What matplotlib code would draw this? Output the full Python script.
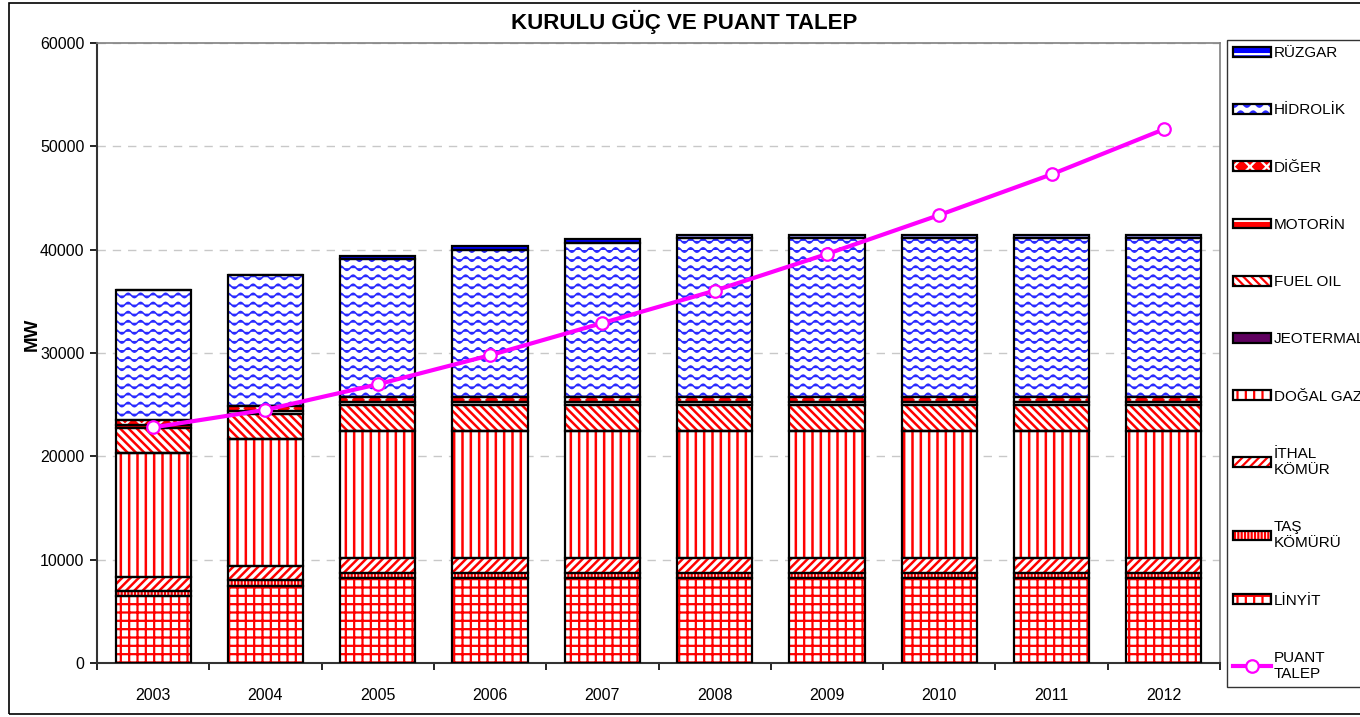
import warnings
import numpy as np
import matplotlib
matplotlib.use("Agg")
import matplotlib.pyplot as plt
import matplotlib.hatch as mhatch
from matplotlib.path import Path
from matplotlib.patches import Rectangle

warnings.filterwarnings("ignore")

# yıllar ve kaynak bazında kurulu güç (MW)
yillar = ['2003', '2004', '2005', '2006', '2007', '2008', '2009', '2010', '2011', '2012']
linyit = [6440, 7480, 8190, 8190, 8190, 8190, 8190, 8190, 8190, 8190]
tas_komuru = [540, 550, 550, 550, 550, 550, 550, 550, 550, 550]
ithal_komur = [1370, 1390, 1420, 1420, 1420, 1420, 1420, 1420, 1420, 1420]
dogal_gaz = [12000, 12260, 12320, 12320, 12320, 12320, 12320, 12320, 12320, 12320]
jeotermal = [15, 15, 15, 15, 15, 15, 15, 15, 15, 15]
fuel_oil = [2400, 2420, 2480, 2480, 2480, 2480, 2480, 2480, 2480, 2480]
motorin = [250, 250, 250, 250, 250, 250, 250, 250, 250, 250]
diger = [470, 520, 560, 560, 560, 560, 560, 560, 560, 560]
hidrolik = [12580, 12650, 13270, 14170, 14900, 15300, 15300, 15300, 15300, 15300]
ruzgar = [19, 19, 380, 420, 320, 320, 320, 320, 320, 320]
puant_talep = [22800, 24500, 26970, 29780, 32900, 36030, 39580, 43350, 47290, 51650]


# dalgali tarama (hidrolik icin)
class WaveHatch(mhatch.HatchPatternBase):
    def __init__(self, hatch, density):
        self.rows = 11 if 'w' in hatch else 0
        self.pts = 8 * 12 + 1
        self.num_vertices = self.rows * self.pts

    def set_vertices_and_codes(self, vertices, codes):
        xs = np.linspace(0, 1, self.pts)
        for r in range(self.rows):
            y0 = (r + 0.5) / self.rows
            sl = slice(r * self.pts, (r + 1) * self.pts)
            vertices[sl, 0] = xs
            vertices[sl, 1] = y0 + 0.022 * np.sin(2 * np.pi * 8 * xs)
            codes[sl] = Path.LINETO
            codes[r * self.pts] = Path.MOVETO


mhatch._hatch_types.append(WaveHatch)

plt.rcParams['font.family'] = ['Liberation Sans', 'DejaVu Sans']
plt.rcParams['hatch.linewidth'] = 1.6

# ad, degerler, zemin, tarama rengi, desen, tarama kalinligi
seriler = [
    ('LİNYİT', linyit, 'white', 'red', '++', 1.6),
    ('TAŞ\nKÖMÜRÜ', tas_komuru, 'white', 'red', '|||||', 1.6),
    ('İTHAL\nKÖMÜR', ithal_komur, 'white', 'red', '////', 1.8),
    ('DOĞAL GAZ', dogal_gaz, 'white', 'red', '||', 1.8),
    ('JEOTERMAL', jeotermal, '#5f005f', '#5f005f', None, 1.0),
    ('FUEL OIL', fuel_oil, 'white', 'red', '\\\\\\\\', 1.8),
    ('MOTORİN', motorin, 'red', 'white', '--', 1.6),
    ('DİĞER', diger, 'red', 'white', 'xx', 1.6),
    ('HİDROLİK', hidrolik, 'white', '#2a2aff', 'w', 1.1),
    ('RÜZGAR', ruzgar, 'blue', 'white', '--', 1.6),
]

fig = plt.figure(figsize=(13.6, 7.17), dpi=100)
ax = fig.add_axes([97 / 1360, 54 / 717, 1123 / 1360, 620 / 717])

x = np.arange(len(yillar))
alt = np.zeros(len(yillar))
tutamaclar = []
etiketler = []
for ad, deger, zemin, renk, desen, kalin in seriler:
    with plt.rc_context({'hatch.linewidth': kalin}):
        b1 = ax.bar(x, deger, 0.67, bottom=alt, color=zemin, edgecolor=renk,
                    hatch=desen, linewidth=0, zorder=2)
    b2 = ax.bar(x, deger, 0.67, bottom=alt, fill=False, edgecolor='black',
                linewidth=1.6, zorder=3)
    tutamaclar.append((b1, b2))
    etiketler.append(ad)
    alt = alt + np.array(deger)

cizgi, = ax.plot(x, puant_talep, color='#ff00ff', lw=3, marker='o', ms=9,
                 mfc='white', mec='#ff00ff', mew=1.6, zorder=5)

ax.set_xlim(-0.5, len(yillar) - 0.5)
ax.set_ylim(0, 60000)
ax.set_yticks(range(0, 60001, 10000))
ax.set_xticks(x)
ax.set_xticklabels(yillar)
ax.set_xticks(np.arange(-0.5, len(yillar), 1), minor=True)
ax.tick_params(axis='x', which='major', length=0, pad=18, labelsize=11.5)
ax.tick_params(axis='x', which='minor', length=5, width=1.2, direction='out')
ax.tick_params(axis='y', length=5, width=1.2, pad=4, labelsize=11.5)
ax.grid(axis='y', color='#c8c8c8', linestyle=(0, (6, 5)), linewidth=1, zorder=0)
ax.set_axisbelow(True)
for s in ['top', 'right']:
    ax.spines[s].set_color('#808080')
    ax.spines[s].set_linewidth(1.2)
for s in ['left', 'bottom']:
    ax.spines[s].set_color('#333333')
    ax.spines[s].set_linewidth(1.5)

ax.set_ylabel('MW', fontsize=13.5, fontweight='bold')
ax.yaxis.set_label_coords(-0.05, 0.53)
fig.text(0.503, 0.969, 'KURULU GÜÇ VE PUANT TALEP', ha='center', va='center',
         fontsize=16, fontweight='bold')

# lejant: ustten alta
h = tutamaclar[::-1] + [cizgi]
e = etiketler[::-1] + ['PUANT\nTALEP']
leg = fig.legend(h, e, loc='upper left', bbox_to_anchor=(1227 / 1360, 1 - 40 / 717),
                 borderaxespad=0, fontsize=11, frameon=True, fancybox=False,
                 edgecolor='black', labelspacing=2.83, handlelength=2.5,
                 handleheight=0.6, handletextpad=0.15, borderpad=0.4)
leg.get_frame().set_linewidth(1.0)

fig.patches.append(Rectangle((9 / 1360, 3 / 717), 1, 711 / 717, transform=fig.transFigure,
                             fill=False, edgecolor='black', linewidth=1.2))

fig.savefig('out.png', dpi=100)
